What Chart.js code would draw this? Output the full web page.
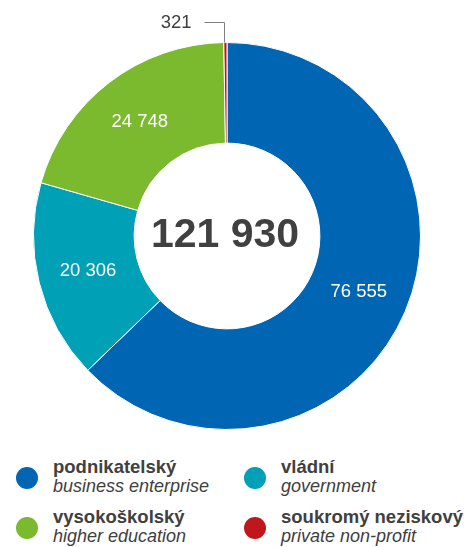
<!DOCTYPE html>
<html>
<head>
<meta charset="utf-8">
<script src="https://cdn.jsdelivr.net/npm/chart.js@4/dist/chart.umd.min.js"></script>
<style>
  body { margin: 0; background: #fff; font-family: "Liberation Sans", Arial, sans-serif; }
  #wrap { position: relative; width: 466px; height: 440px; }
  .legend { position: absolute; left: 0; top: 440px; width: 466px; }
  .item { position: absolute; }
  .dot { position: absolute; width: 22px; height: 22px; border-radius: 50%; }
  .cz { position: absolute; white-space: nowrap; font-weight: bold; font-size: 18.5px; line-height: 20px; color: #404040; }
  .en { position: absolute; white-space: nowrap; font-style: italic; font-size: 18px; line-height: 20px; color: #404040; }
</style>
</head>
<body>
<div id="wrap"><canvas id="chart" width="466" height="440"></canvas></div>
<div class="legend" id="legend"></div>
<script>
// Data
const categories = ["podnikatelský", "vládní", "vysokoškolský", "soukromý neziskový"];
const categoriesEn = ["business enterprise", "government", "higher education", "private non-profit"];
const values = [76555, 20306, 24748, 321];
const colors = ["#0066b3", "#00a0b6", "#7bb92f", "#c0171c"];
const totalLabel = "121 930";

function fmt(n) {
    return String(n).replace(/\B(?=(\d{3})+(?!\d))/g, " ");
}

// Labels on slices, leader for the tiny one, and total in the middle
const labelPlugin = {
    id: "labels",
    afterDatasetsDraw(chart) {
        const ctx = chart.ctx;
        const meta = chart.getDatasetMeta(0);
        const total = values.reduce((a, b) => a + b, 0);
        ctx.save();
        meta.data.forEach((arc, i) => {
            const v = values[i];
            ctx.font = "18.5px 'Liberation Sans', Arial, sans-serif";
            ctx.textBaseline = "middle";
            if (v / total > 0.05) {
                const p = arc.tooltipPosition();
                ctx.fillStyle = "#ffffff";
                ctx.textAlign = "center";
                ctx.fillText(fmt(v), p.x, p.y);
            } else {
                const mid = (arc.startAngle + arc.endAngle) / 2;
                const x0 = Math.round(arc.x + Math.cos(mid) * arc.outerRadius) - 0.5;
                const y0 = arc.y + Math.sin(mid) * arc.outerRadius;
                const yTop = Math.round(y0 - 21) + 0.5;
                ctx.strokeStyle = "#808080";
                ctx.lineWidth = 1;
                ctx.beginPath();
                ctx.moveTo(x0, y0);
                ctx.lineTo(x0, yTop);
                ctx.lineTo(x0 - 20, yTop);
                ctx.stroke();
                ctx.fillStyle = "#404040";
                ctx.textAlign = "right";
                ctx.fillText(fmt(v), x0 - 33, yTop);
            }
        });
        const c = meta.data[0];
        ctx.fillStyle = "#404040";
        ctx.font = "bold 41px 'Liberation Sans', Arial, sans-serif";
        ctx.textAlign = "center";
        ctx.textBaseline = "middle";
        ctx.fillText(totalLabel, c.x - 2, c.y);
        ctx.restore();
    }
};

new Chart(document.getElementById("chart"), {
    type: "doughnut",
    data: {
        labels: categories,
        datasets: [{
            data: values,
            backgroundColor: colors,
            borderColor: "#ffffff",
            borderWidth: 1
        }]
    },
    options: {
        responsive: false,
        animation: false,
        cutout: "48%",
        layout: { padding: { top: 42, bottom: 10, left: 0, right: 12 } },
        plugins: { legend: { display: false }, tooltip: { enabled: false } }
    },
    plugins: [labelPlugin]
});

// Legend (2 x 2): left column business, higher ed; right column government, private
const legend = document.getElementById("legend");
const cols = [16, 244];
const rows = [27, 77];
const order = [[0, 0], [1, 0], [0, 1], [1, 1]];
categories.forEach((name, i) => {
    const item = document.createElement("div");
    item.className = "item";
    item.style.left = cols[order[i][0]] + "px";
    item.style.top = rows[order[i][1]] + "px";
    item.innerHTML =
        '<div class="dot" style="left:0;top:0;background:' + colors[i] + '"></div>' +
        '<div class="cz" style="left:37px;top:-10px">' + name + '</div>' +
        '<div class="en" style="left:37px;top:9px">' + categoriesEn[i] + '</div>';
    legend.appendChild(item);
});
</script>
</body>
</html>
